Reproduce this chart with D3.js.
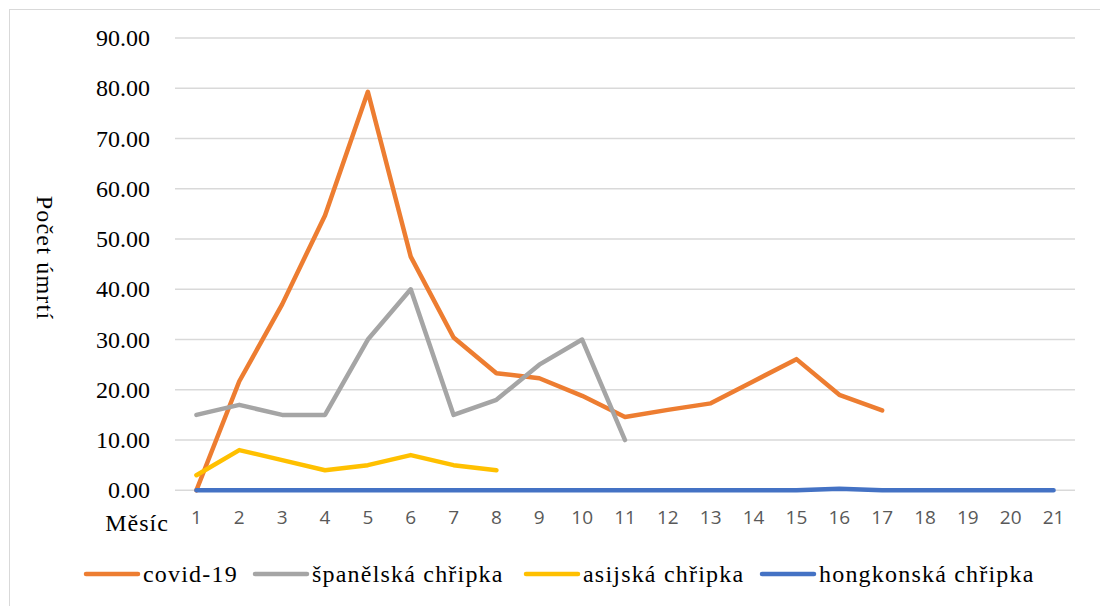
<!DOCTYPE html>
<html>
<head>
<meta charset="utf-8">
<script src="https://cdn.jsdelivr.net/npm/d3@7"></script>
<style>
  body { margin: 0; background: #fff; }
</style>
</head>
<body>
<svg id="chart" width="1100" height="606"></svg>
<script>
// months on the x axis
var months = d3.range(1, 22).map(String);

var covid = [0, 21.7, 37, 54.7, 79.3, 46.5, 30.4, 23.3, 22.3, 18.8, 14.6, 16, 17.3, 21.7, 26.1, 19, 15.9];
var spanish = [15, 17, 15, 15, 30, 40, 15, 18, 25, 30, 10];
var asian = [3, 8, 6, 4, 5, 7, 5, 4];
var hongkong = [0, 0, 0, 0, 0, 0, 0, 0, 0, 0, 0, 0, 0, 0, 0, 0.3, 0, 0, 0, 0, 0];

var yTicks = [0, 10, 20, 30, 40, 50, 60, 70, 80, 90];

var series = [
    {name: 'covid-19', values: covid, color: '#ed7d31'},
    {name: 'španělská chřipka', values: spanish, color: '#a5a5a5'},
    {name: 'asijská chřipka', values: asian, color: '#ffc000'},
    {name: 'hongkonská chřipka', values: hongkong, color: '#4472c4'}
];

var serif = '"Liberation Serif", "Times New Roman", serif';
var sans = '"Open Sans", "Liberation Sans", sans-serif';

var svg = d3.select('#chart');
var plot = {left: 175, right: 1075, top: 38, bottom: 490.3};

// chart frame (only left and top edge are visible in the picture)
svg.append('rect')
    .attr('x', 9.5).attr('y', 9.5)
    .attr('width', 1100).attr('height', 620)
    .attr('fill', 'none')
    .attr('stroke', '#d9d9d9')
    .attr('stroke-width', 1);

var x = d3.scaleBand().domain(months).range([plot.left, plot.right]);
var y = d3.scaleLinear().domain([0, 90]).range([plot.bottom, plot.top]);

// gridlines
svg.append('g')
    .selectAll('line')
    .data(yTicks)
    .enter().append('line')
    .attr('x1', plot.left).attr('x2', plot.right)
    .attr('y1', function (d) { return y(d); })
    .attr('y2', function (d) { return y(d); })
    .attr('stroke', '#d9d9d9')
    .attr('stroke-width', 1.5);

// y axis labels
var yAxis = d3.axisLeft(y).tickValues(yTicks).tickSize(0).tickPadding(0)
    .tickFormat(d3.format('.2f'));
svg.append('g')
    .attr('transform', 'translate(150,0)')
    .call(yAxis)
    .call(function (g) { g.select('.domain').remove(); })
    .selectAll('text')
    .style('font-family', serif)
    .style('font-size', '24px')
    .attr('fill', '#000');

// x axis labels
var xAxis = d3.axisBottom(x).tickSize(0).tickPadding(0);
svg.append('g')
    .attr('transform', 'translate(0,' + 510 + ')')
    .call(xAxis)
    .call(function (g) { g.select('.domain').remove(); })
    .selectAll('text')
    .style('font-family', sans)
    .style('font-size', '19px')
    .attr('fill', '#595959');

svg.append('text')
    .attr('x', 137).attr('y', 531)
    .attr('text-anchor', 'middle')
    .style('font-family', serif)
    .style('font-size', '24px')
    .style('letter-spacing', '1px')
    .text('Měsíc');

svg.append('text')
    .attr('transform', 'translate(37,258) rotate(90)')
    .attr('text-anchor', 'middle')
    .style('font-family', serif)
    .style('font-size', '24px')
    .style('letter-spacing', '1.2px')
    .text('Počet úmrtí');

// lines
var line = d3.line()
    .x(function (d, i) { return x(months[i]) + x.bandwidth() / 2; })
    .y(function (d) { return y(d); });

svg.append('g')
    .selectAll('path')
    .data(series)
    .enter().append('path')
    .attr('d', function (s) { return line(s.values); })
    .attr('fill', 'none')
    .attr('stroke', function (s) { return s.color; })
    .attr('stroke-width', 4.5)
    .attr('stroke-linejoin', 'round')
    .attr('stroke-linecap', 'round');

// legend
var legendX = [84, 253, 524, 760];
var legend = svg.append('g').selectAll('g')
    .data(series)
    .enter().append('g')
    .attr('transform', function (d, i) { return 'translate(' + legendX[i] + ',574)'; });

legend.append('line')
    .attr('x1', 2).attr('x2', 54)
    .attr('stroke', function (d) { return d.color; })
    .attr('stroke-width', 4.5)
    .attr('stroke-linecap', 'round');

legend.append('text')
    .attr('x', 59).attr('y', 8)
    .style('font-family', serif)
    .style('font-size', '24px')
    .style('letter-spacing', '1.2px')
    .text(function (d) { return d.name; });
</script>
</body>
</html>
